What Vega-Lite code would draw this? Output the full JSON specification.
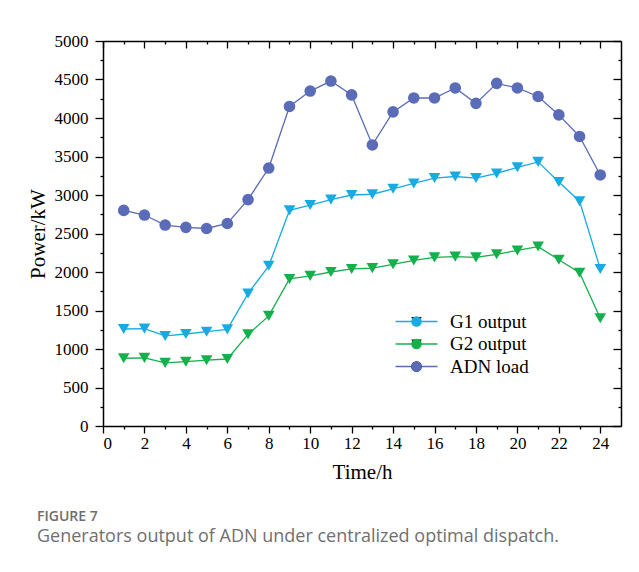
{
  "$schema": "https://vega.github.io/schema/vega-lite/v6.json",
  "width": 518,
  "height": 385,
  "autosize": {"type": "none"},
  "padding": {"left": 103, "top": 41, "right": 18, "bottom": 146},
  "background": "white",
  "title": {
    "text": "FIGURE 7",
    "subtitle": "Generators output of ADN under centralized optimal dispatch.",
    "orient": "bottom",
    "anchor": "start",
    "frame": "group",
    "dx": -66,
    "offset": 28,
    "font": "Open Sans",
    "fontSize": 14,
    "fontWeight": 600,
    "color": "#6e6e6e",
    "subtitleFont": "Open Sans",
    "subtitleFontSize": 18,
    "subtitleColor": "#707070",
    "subtitlePadding": 4
  },
  "config": {
    "view": {"stroke": null},
    "axis": {
      "grid": false,
      "domainColor": "black",
      "domainWidth": 1.5,
      "tickColor": "black",
      "tickWidth": 1.3,
      "labelFont": "Liberation Serif",
      "labelFontSize": 17,
      "labelColor": "black",
      "titleFont": "Liberation Serif",
      "titleFontSize": 21,
      "titleFontWeight": "normal",
      "titleColor": "black",
      "labelOverlap": false
    }
  },
  "data": {
    "values": [
      {"t": 1, "series": "G1 output", "v": 1260}, {"t": 2, "series": "G1 output", "v": 1265}, {"t": 3, "series": "G1 output", "v": 1170}, {"t": 4, "series": "G1 output", "v": 1195},
      {"t": 5, "series": "G1 output", "v": 1225}, {"t": 6, "series": "G1 output", "v": 1255}, {"t": 7, "series": "G1 output", "v": 1720}, {"t": 8, "series": "G1 output", "v": 2080},
      {"t": 9, "series": "G1 output", "v": 2800}, {"t": 10, "series": "G1 output", "v": 2870}, {"t": 11, "series": "G1 output", "v": 2940}, {"t": 12, "series": "G1 output", "v": 3000},
      {"t": 13, "series": "G1 output", "v": 3010}, {"t": 14, "series": "G1 output", "v": 3080}, {"t": 15, "series": "G1 output", "v": 3150}, {"t": 16, "series": "G1 output", "v": 3220},
      {"t": 17, "series": "G1 output", "v": 3240}, {"t": 18, "series": "G1 output", "v": 3220}, {"t": 19, "series": "G1 output", "v": 3280}, {"t": 20, "series": "G1 output", "v": 3360},
      {"t": 21, "series": "G1 output", "v": 3430}, {"t": 22, "series": "G1 output", "v": 3170}, {"t": 23, "series": "G1 output", "v": 2920}, {"t": 24, "series": "G1 output", "v": 2040},
      {"t": 1, "series": "G2 output", "v": 880}, {"t": 2, "series": "G2 output", "v": 885}, {"t": 3, "series": "G2 output", "v": 820}, {"t": 4, "series": "G2 output", "v": 835},
      {"t": 5, "series": "G2 output", "v": 855}, {"t": 6, "series": "G2 output", "v": 870}, {"t": 7, "series": "G2 output", "v": 1190}, {"t": 8, "series": "G2 output", "v": 1430},
      {"t": 9, "series": "G2 output", "v": 1910}, {"t": 10, "series": "G2 output", "v": 1950}, {"t": 11, "series": "G2 output", "v": 2000}, {"t": 12, "series": "G2 output", "v": 2040},
      {"t": 13, "series": "G2 output", "v": 2050}, {"t": 14, "series": "G2 output", "v": 2100}, {"t": 15, "series": "G2 output", "v": 2150}, {"t": 16, "series": "G2 output", "v": 2190},
      {"t": 17, "series": "G2 output", "v": 2200}, {"t": 18, "series": "G2 output", "v": 2190}, {"t": 19, "series": "G2 output", "v": 2230}, {"t": 20, "series": "G2 output", "v": 2280},
      {"t": 21, "series": "G2 output", "v": 2330}, {"t": 22, "series": "G2 output", "v": 2160}, {"t": 23, "series": "G2 output", "v": 1990}, {"t": 24, "series": "G2 output", "v": 1400},
      {"t": 1, "series": "ADN load", "v": 2800}, {"t": 2, "series": "ADN load", "v": 2740}, {"t": 3, "series": "ADN load", "v": 2610}, {"t": 4, "series": "ADN load", "v": 2580},
      {"t": 5, "series": "ADN load", "v": 2565}, {"t": 6, "series": "ADN load", "v": 2630}, {"t": 7, "series": "ADN load", "v": 2940}, {"t": 8, "series": "ADN load", "v": 3350},
      {"t": 9, "series": "ADN load", "v": 4150}, {"t": 10, "series": "ADN load", "v": 4350}, {"t": 11, "series": "ADN load", "v": 4480}, {"t": 12, "series": "ADN load", "v": 4300},
      {"t": 13, "series": "ADN load", "v": 3650}, {"t": 14, "series": "ADN load", "v": 4080}, {"t": 15, "series": "ADN load", "v": 4260}, {"t": 16, "series": "ADN load", "v": 4260},
      {"t": 17, "series": "ADN load", "v": 4390}, {"t": 18, "series": "ADN load", "v": 4190}, {"t": 19, "series": "ADN load", "v": 4450}, {"t": 20, "series": "ADN load", "v": 4390},
      {"t": 21, "series": "ADN load", "v": 4280}, {"t": 22, "series": "ADN load", "v": 4040}, {"t": 23, "series": "ADN load", "v": 3760}, {"t": 24, "series": "ADN load", "v": 3260}
    ]
  },
  "resolve": {"axis": {"x": "independent", "y": "independent"}},
  "layer": [
    {
      "mark": {"type": "line", "strokeWidth": 1.3},
      "encoding": {
        "x": {
          "field": "t", "type": "quantitative",
          "scale": {"domain": [0, 25], "nice": false},
          "axis": {
            "orient": "bottom",
            "title": "Time/h",
            "values": [0,1,2,3,4,5,6,7,8,9,10,11,12,13,14,15,16,17,18,19,20,21,22,23,24],
            "tickSize": {"expr": "datum.value % 2 === 0 ? 7 : 3"},
            "labelExpr": "datum.value % 2 === 0 ? datum.label : ''",
            "labelPadding": 2,
            "titlePadding": 10
          }
        },
        "y": {
          "field": "v", "type": "quantitative",
          "scale": {"domain": [0, 5000], "nice": false},
          "axis": {
            "orient": "left",
            "title": "Power/kW",
            "values": [0,250,500,750,1000,1250,1500,1750,2000,2250,2500,2750,3000,3250,3500,3750,4000,4250,4500,4750,5000],
            "tickSize": {"expr": "datum.value % 500 === 0 ? 8 : 3"},
            "labelExpr": "datum.value % 500 === 0 ? datum.label : ''",
            "format": "d",
            "labelPadding": 7,
            "titlePadding": 6
          }
        },
        "color": {
          "field": "series", "type": "nominal",
          "scale": {"domain": ["G1 output", "G2 output", "ADN load"], "range": ["#1aaae2", "#14b04b", "#5a6bb8"]},
          "legend": {
            "orient": "none", "legendX": 304, "legendY": 271,
            "title": null, "padding": 0,
            "symbolType": "M-4,0H4", "symbolSize": 110, "symbolStrokeWidth": 1.3,
            "labelFont": "Liberation Serif", "labelFontSize": 19, "labelColor": "black",
            "labelOffset": 24, "rowPadding": 2.5
          }
        }
      }
    },
    {
      "mark": {"type": "point", "filled": true, "opacity": 1, "size": 135, "strokeWidth": 0},
      "encoding": {
        "x": {
          "field": "t", "type": "quantitative",
          "axis": {
            "orient": "top", "title": null, "labels": false,
            "values": [0,1,2,3,4,5,6,7,8,9,10,11,12,13,14,15,16,17,18,19,20,21,22,23,24],
            "tickSize": {"expr": "datum.value % 2 === 0 ? -7 : -3"}
          }
        },
        "y": {
          "field": "v", "type": "quantitative",
          "axis": {
            "orient": "right", "title": null, "labels": false,
            "values": [0,250,500,750,1000,1250,1500,1750,2000,2250,2500,2750,3000,3250,3500,3750,4000,4250,4500,4750,5000],
            "tickSize": {"expr": "datum.value % 500 === 0 ? -8 : -3"}
          }
        },
        "fill": {
          "field": "series", "type": "nominal",
          "sort": ["G1 output", "G2 output", "ADN load"],
          "scale": {"range": ["#1aaae2", "#14b04b", "#5a6bb8"]},
          "legend": {
            "orient": "none", "legendX": 304, "legendY": 271,
            "title": null, "padding": 0, "symbolSize": 110,
            "labelFont": "Liberation Serif", "labelFontSize": 19, "labelOpacity": 0,
            "labelOffset": 24, "rowPadding": 2.5
          }
        },
        "shape": {
          "field": "series", "type": "nominal",
          "sort": ["G1 output", "G2 output", "ADN load"],
          "scale": {"range": ["triangle-down", "triangle-down", "circle"]},
          "legend": {
            "orient": "none", "legendX": 304, "legendY": 271,
            "title": null, "padding": 0, "symbolSize": 110,
            "labelFont": "Liberation Serif", "labelFontSize": 19, "labelOpacity": 0,
            "labelOffset": 24, "rowPadding": 2.5
          }
        }
      }
    }
  ]
}
